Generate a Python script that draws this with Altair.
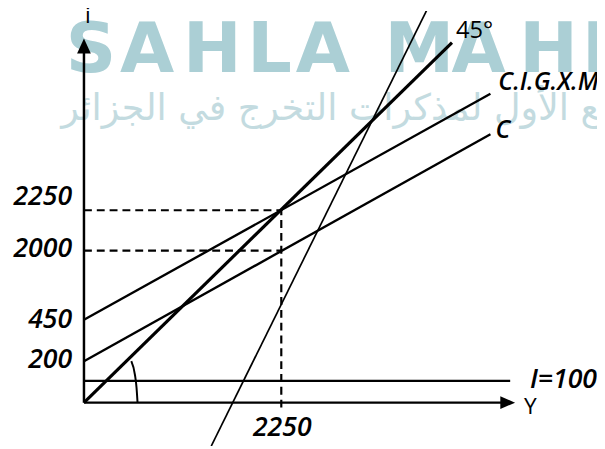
import altair as alt
import pandas as pd

# Diagram units (the sketch is not to scale): origin = corner of the axes
X_DOMAIN = [-77, 520]
Y_DOMAIN = [-44, 397]

# --- schedules (end points) ---
curve_names = ["45°", "C.I.G.X.M", "C", "I=100", "steep"]
curve_u0 = [0, 0, 0, 0, 129]
curve_v0 = [0, 84, 42, 22, -44]
curve_u1 = [373, 412, 412, 432, 351]
curve_v1 = [365, 313, 272, 22, 405]
curve_w = [3.2, 2.4, 2.4, 2.4, 1.7]

# --- axes ---
axis_names = ["Y", "i"]
axis_u0 = [0, 0]
axis_v0 = [0, 0]
axis_u1 = [426, 0]
axis_v1 = [0, 356]

# --- dashed guides ---
guide_names = ["Y=2250 level", "2000 level", "Y=2250"]
guide_u0 = [0, 0, 200]
guide_v0 = [195, 154, -5]
guide_u1 = [200, 200, 200]
guide_v1 = [195, 154, 195]

# --- angle mark near the origin ---
arc_u = [48, 51.7, 53.3, 54.3]
arc_v = [42, 28, 15, 0]

# --- tick labels ---
ytick_text = ["2250", "2000", "450", "200"]
ytick_v = [208, 156, 84, 43]
xtick_text = ["2250"]
xtick_u = [201]

# --- curve labels ---
upright_text = ["45°", "Y", "i"]
upright_u = [377, 446, 1]
upright_v = [377, -5, 392]
upright_size = [24, 23, 23]
italic_text = ["C.I.G.X.M", "C", "I=100"]
italic_u = [420, 417, 452]
italic_v = [325, 276, 23]
italic_size = [25, 25, 27]

# --- watermark ---
wm_letters = list("SAHLAMAHI")
wm_u = [7, 64, 130, 188, 242, 340, 400, 471, 518]
wm_v = [335] * 9
wm_arabic = "المرجع الأول لمذكرات التخرج في الجزائر"

xs = alt.Scale(domain=X_DOMAIN, nice=False, zero=False)
ys = alt.Scale(domain=Y_DOMAIN, nice=False, zero=False)


def seg_frame(names, u0, v0, u1, v1, extra=None):
    rows = []
    for i, n in enumerate(names):
        for (u, v) in ((u0[i], v0[i]), (u1[i], v1[i])):
            r = {"id": n, "u": u, "v": v}
            if extra is not None:
                r["w"] = extra[i]
            rows.append(r)
    return pd.DataFrame(rows)


curves = seg_frame(curve_names, curve_u0, curve_v0, curve_u1, curve_v1, curve_w)
axes_df = seg_frame(axis_names, axis_u0, axis_v0, axis_u1, axis_v1)
guides = seg_frame(guide_names, guide_u0, guide_v0, guide_u1, guide_v1)
arc = pd.DataFrame({"u": arc_u, "v": arc_v, "o": range(len(arc_u))})


def X(f="u"):
    return alt.X(f"{f}:Q", scale=xs, axis=None)


def Y(f="v"):
    return alt.Y(f"{f}:Q", scale=ys, axis=None)


wm1 = alt.Chart(pd.DataFrame({"t": wm_letters, "u": wm_u, "v": wm_v})).mark_text(
    font="DejaVu Sans", fontSize=71, fontWeight="bold", color="#abcfd5", align="center",
    baseline="alphabetic"
).encode(x=X(), y=Y(), text="t:N")

wm2 = alt.Chart(pd.DataFrame({"t": [wm_arabic], "u": [-23], "v": [286]})).mark_text(
    font="DejaVu Sans", fontSize=37, color="#c3dbe0", align="left",
    baseline="alphabetic"
).encode(x=X(), y=Y(), text="t:N")

curve_layer = alt.Chart(curves).mark_line(color="black", clip=True).encode(
    x=X(), y=Y(), detail="id:N",
    strokeWidth=alt.StrokeWidth("w:Q", scale=None, legend=None),
)

axis_layer = alt.Chart(axes_df).mark_line(color="black", strokeWidth=2.5).encode(
    x=X(), y=Y(), detail="id:N"
)

guide_layer = alt.Chart(guides).mark_line(
    color="black", strokeWidth=2.2, strokeDash=[8, 5]
).encode(x=X(), y=Y(), detail="id:N")

arc_layer = alt.Chart(arc).mark_line(
    color="black", strokeWidth=2, interpolate="monotone"
).encode(x=X(), y=Y(), order="o:Q")

arrow_up = alt.Chart(pd.DataFrame({"u": [0], "v": [369]})).mark_point(
    shape="M0,0L0.93,2L-0.93,2Z", size=225, filled=True, color="black", opacity=1
).encode(x=X(), y=Y())

arrow_right = alt.Chart(pd.DataFrame({"u": [437], "v": [0]})).mark_point(
    shape="M0,0L-2,-0.85L-2,0.85Z", size=225, filled=True, color="black", opacity=1
).encode(x=X(), y=Y())

ytick_layer = alt.Chart(pd.DataFrame({"t": ytick_text, "v": ytick_v, "u": [-12] * 4})).mark_text(
    font="Open Sans", fontStyle="italic", fontWeight=600, fontSize=27, color="black",
    align="right", baseline="middle"
).encode(x=X(), y=Y(), text="t:N")

xtick_layer = alt.Chart(pd.DataFrame({"t": xtick_text, "u": xtick_u, "v": [-26]})).mark_text(
    font="Open Sans", fontStyle="italic", fontWeight=600, fontSize=27, color="black",
    align="center", baseline="middle"
).encode(x=X(), y=Y(), text="t:N")

italic_layer = alt.Chart(pd.DataFrame({
    "t": italic_text, "u": italic_u, "v": italic_v, "s": italic_size
})).mark_text(
    font="Open Sans", fontStyle="italic", fontWeight=600, color="black", align="left",
    baseline="middle"
).encode(
    x=X(), y=Y(), text="t:N",
    size=alt.Size("s:Q", scale=None, legend=None),
)

upright_layer = alt.Chart(pd.DataFrame({
    "t": upright_text, "u": upright_u, "v": upright_v, "s": upright_size
})).mark_text(
    font="Open Sans", fontWeight=500, color="black", align="left", baseline="middle"
).encode(
    x=X(), y=Y(), text="t:N",
    size=alt.Size("s:Q", scale=None, legend=None),
)

chart = alt.layer(
    wm1, wm2, guide_layer, curve_layer, axis_layer, arc_layer,
    arrow_up, arrow_right, ytick_layer, xtick_layer, italic_layer, upright_layer
).properties(
    width=597, height=441, padding=0,
    autosize=alt.AutoSizeParams(type="none"),
    background="white",
).configure_view(stroke=None)

chart.save("out.html", embed_options={"renderer": "svg", "actions": False})
